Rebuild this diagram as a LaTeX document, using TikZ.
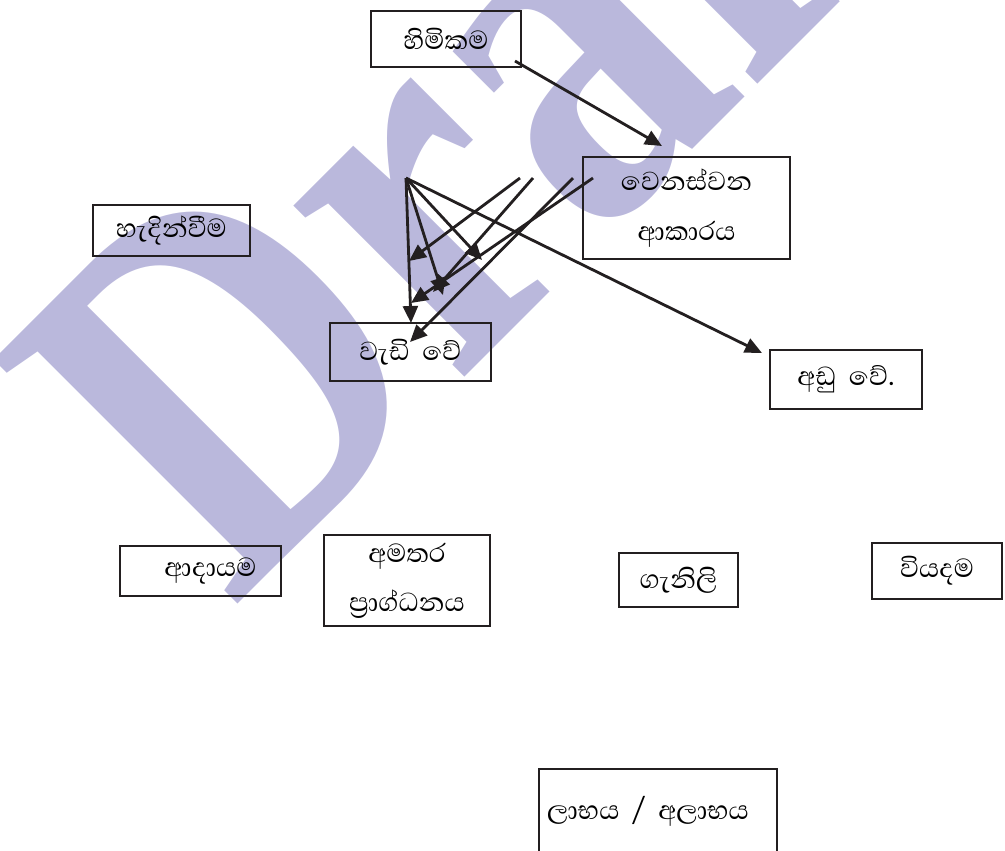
\documentclass[tikz,border=0pt]{standalone}
\usepackage{fontspec}
\setmainfont{Liberation Serif}
\newfontfamily\sinhala[Script=Sinhala]{Abhaya Libre}
\usetikzlibrary{arrows.meta}
\definecolor{wmark}{RGB}{186,184,220}
\definecolor{ink}{RGB}{35,31,32}

\begin{document}
\begin{tikzpicture}[x=0.02cm, y=-0.02cm,
  box/.style={draw=ink, line width=1.1pt, inner sep=0pt, align=center,
    font=\sinhala\fontsize{19}{28}\selectfont},
  arr/.style={draw=ink, line width=1.6pt, -{Triangle[length=0.34cm, width=0.3cm]}}]
\useasboundingbox (0,0) rectangle (1005,850);
\clip (0,0) rectangle (1005,850);

% watermark
\node [wmark, rotate=45, yscale=1.2, anchor=base west, inner sep=0pt,
  font=\bfseries\fontsize{250}{250}\selectfont] (draft) at (232,610) {Draft};

\node [box, minimum width=3cm, minimum height=1.12cm] (himikama) at (446,39) {හිමිකම};
\node [box, minimum width=4.14cm, minimum height=2.04cm] (wenas) at (686.5,208) {වෙනස්වන\\ආකාරය};
\node [box, minimum width=3.14cm, minimum height=1.02cm] (handin) at (171.5,230.5) {හැදින්වීම};
\node [box, minimum width=3.22cm, minimum height=1.16cm] (wadi) at (410.5,352) {වැඩි\ \ වේ};
\node [box, minimum width=3.04cm, minimum height=1.18cm] (adu) at (846,379.5) {අඩු\ \ වේ.};
\node [box, minimum width=3.22cm, minimum height=1cm] (adayama) at (200.5,571) {\hspace*{0.4cm}ආදායම};
\node [box, minimum width=3.32cm, minimum height=1.82cm] (amatara) at (407,580.5) {අමතර\\ප්^^^^200dරාග්ධනය};
\node [box, minimum width=2.38cm, minimum height=1.08cm] (ganili) at (678.5,580) {ගැනිලි};
\node [box, minimum width=2.6cm, minimum height=1.12cm] (viyadama) at (937,571) {වියදම};
\node [box, minimum width=4.76cm, minimum height=1.68cm, anchor=north] (labha) at (658,768) {ලාභය\ \ /\ \ අලාභය\hspace*{0.4cm}};

% arrow ends
\coordinate (himi out) at (515,61);
\coordinate (wenas in) at (662,146);
\coordinate (fan) at (406,178);
\coordinate (f1) at (520,178);
\coordinate (f2) at (533,178);
\coordinate (f3) at (573,178);
\coordinate (f4) at (593,178);
\coordinate (adu in) at (762,353);

\draw [arr] (himi out) -- (wenas in);
\draw [arr] (fan) -- (411,323);
\draw [arr] (fan) -- (443,295);
\draw [arr] (fan) -- (482,260);
\draw [arr] (fan) -- (adu in);
\draw [arr] (f1) -- (409,261);
\draw [arr] (f2) -- (433,292);
\draw [arr] (f3) -- (410,342);
\draw [arr] (f4) -- (411,303);

\end{tikzpicture}
\end{document}
